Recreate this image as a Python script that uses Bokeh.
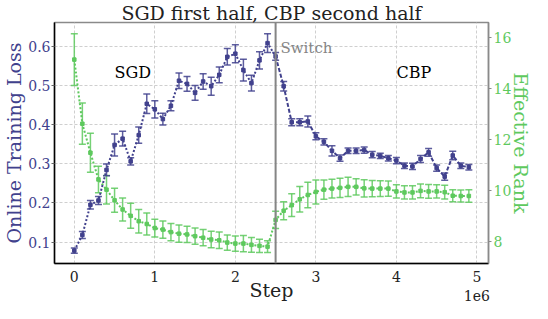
from bokeh.plotting import figure
from bokeh.models import Range1d, LinearAxis, FixedTicker, Label, Span
from bokeh.embed import file_html
from bokeh.resources import INLINE

# ---------------- data ----------------
steps = [i * 100000 for i in range(50)]
switch_step = 2500000

loss = [0.078, 0.118, 0.195, 0.206, 0.284, 0.348, 0.364, 0.306, 0.373, 0.453,
        0.439, 0.414, 0.448, 0.512, 0.504, 0.481, 0.510, 0.498, 0.527, 0.573,
        0.581, 0.539, 0.506, 0.564, 0.608, 0.574, 0.498, 0.406, 0.406, 0.408,
        0.370, 0.356, 0.333, 0.314, 0.333, 0.333, 0.335, 0.323, 0.320, 0.314,
        0.308, 0.295, 0.293, 0.312, 0.329, 0.289, 0.267, 0.321, 0.295, 0.291]
loss_err = [0.007, 0.009, 0.011, 0.010, 0.015, 0.028, 0.019, 0.009, 0.021, 0.025,
            0.022, 0.015, 0.013, 0.020, 0.019, 0.019, 0.020, 0.023, 0.020, 0.021,
            0.023, 0.028, 0.020, 0.022, 0.024, 0.010, 0.012, 0.009, 0.009, 0.014,
            0.009, 0.008, 0.013, 0.008, 0.007, 0.007, 0.008, 0.008, 0.007, 0.007,
            0.008, 0.007, 0.008, 0.009, 0.010, 0.008, 0.009, 0.011, 0.007, 0.007]

rank = [15.13, 12.61, 11.47, 10.42, 10.02, 9.60, 9.24, 8.99, 8.78, 8.67,
        8.51, 8.45, 8.35, 8.29, 8.26, 8.19, 8.13, 8.06, 8.03, 7.94,
        7.90, 7.90, 7.85, 7.81, 7.78, 8.83, 9.19, 9.41, 9.64, 9.81,
        9.93, 10.02, 10.06, 10.09, 10.13, 10.13, 10.07, 10.06, 10.06, 10.06,
        9.95, 9.91, 9.91, 9.97, 9.95, 9.95, 9.92, 9.78, 9.77, 9.77]
rank_err = [1.02, 0.81, 0.77, 0.52, 0.56, 0.47, 0.45, 0.49, 0.46, 0.43,
            0.35, 0.34, 0.34, 0.34, 0.32, 0.32, 0.32, 0.32, 0.32, 0.30,
            0.30, 0.32, 0.29, 0.26, 0.23, 0.34, 0.35, 0.45, 0.50, 0.50,
            0.47, 0.38, 0.37, 0.38, 0.38, 0.32, 0.34, 0.32, 0.31, 0.30,
            0.26, 0.26, 0.26, 0.27, 0.27, 0.26, 0.27, 0.24, 0.24, 0.25]

x_ticks = [0, 1000000, 2000000, 3000000, 4000000, 5000000]
x_tick_labels = ["0", "1", "2", "3", "4", "5\n1e6"]
loss_ticks = [0.1, 0.2, 0.3, 0.4, 0.5, 0.6]
rank_ticks = [8, 10, 12, 14, 16]

BLUE = "#41418d"
GREEN = "#5ec95e"
FONT = "DejaVu Serif"

p = figure(width=540, height=311, output_backend="svg", toolbar_location=None,
           x_range=Range1d(-246000, 5144000), y_range=Range1d(0.0451, 0.6607),
           min_border_left=49, min_border_right=52, min_border_top=10,
           min_border_bottom=48)
p.extra_y_ranges = {"rank": Range1d(7.117, 16.588)}

p.title.text = "SGD first half, CBP second half"
p.title.text_font = FONT
p.title.text_font_size = "19px"
p.title.text_font_style = "normal"
p.title.align = "center"
p.title.text_color = "#222222"
p.title.standoff = -2

p.outline_line_color = "#8a8a8a"
p.outline_line_width = 1.5
p.background_fill_color = "white"
p.border_fill_color = "white"

# grids
p.xgrid.ticker = FixedTicker(ticks=x_ticks)
p.ygrid.ticker = FixedTicker(ticks=loss_ticks)
for g in (p.xgrid, p.ygrid):
    g.grid_line_color = "#cfcfcf"
    g.grid_line_dash = "3 2"
    g.grid_line_width = 1

# x axis
xa = p.xaxis[0]
xa.ticker = FixedTicker(ticks=x_ticks)
xa.major_label_overrides = {t: l for t, l in zip(x_ticks, x_tick_labels)}
xa.axis_label = "Step"
xa.axis_label_text_font = FONT
xa.axis_label_text_font_size = "19px"
xa.axis_label_text_font_style = "normal"
xa.axis_label_text_color = "#222222"
xa.major_label_text_font = FONT
xa.major_label_text_font_size = "14px"
xa.major_label_text_color = "#222222"
xa.axis_line_color = "black"
xa.axis_line_width = 1.5
xa.major_tick_out = 0
xa.major_tick_in = 0
xa.minor_tick_out = 0
xa.minor_tick_in = 0
xa.major_label_standoff = 5
xa.axis_label_standoff = -28

# left axis
ya = p.yaxis[0]
ya.ticker = FixedTicker(ticks=loss_ticks)
ya.axis_label = "Online Training Loss"
ya.axis_label_text_font = FONT
ya.axis_label_text_font_size = "19px"
ya.axis_label_text_font_style = "normal"
ya.axis_label_text_color = BLUE
ya.major_label_text_font = FONT
ya.major_label_text_font_size = "14px"
ya.major_label_text_color = BLUE
ya.axis_line_color = "black"
ya.axis_line_width = 1.5
ya.major_tick_out = 3
ya.major_tick_in = 0
ya.minor_tick_out = 0
ya.minor_tick_in = 0
ya.major_tick_line_color = "#666666"
ya.major_label_standoff = 1
ya.axis_label_standoff = 0

# right axis
ra = LinearAxis(y_range_name="rank", ticker=FixedTicker(ticks=rank_ticks))
ra.axis_label = "Effective Rank"
ra.axis_label_text_font = FONT
ra.axis_label_text_font_size = "19px"
ra.axis_label_text_font_style = "normal"
ra.axis_label_text_color = GREEN
ra.axis_label_orientation = "vertical"
ra.major_label_text_font = FONT
ra.major_label_text_font_size = "14px"
ra.major_label_text_color = GREEN
ra.axis_line_color = "#8a8a8a"
ra.axis_line_width = 1.5
ra.major_tick_out = 3
ra.major_tick_in = 0
ra.minor_tick_out = 0
ra.minor_tick_in = 0
ra.major_tick_line_color = "#8a8a8a"
ra.major_label_standoff = 2
ra.axis_label_standoff = -4
p.add_layout(ra, "right")

# switch line
p.add_layout(Span(location=switch_step, dimension="height", line_color="#858585",
                  line_width=2))

# ---- effective rank (green) ----
rank_lo = [v - e for v, e in zip(rank, rank_err)]
rank_hi = [v + e for v, e in zip(rank, rank_err)]
p.line(steps, rank, y_range_name="rank", line_color=GREEN, line_width=2,
       line_dash="2 2")
p.segment(x0=steps, y0=rank_lo, x1=steps, y1=rank_hi, y_range_name="rank",
          line_color=GREEN, line_width=1.5, line_alpha=0.85)
p.scatter(steps, rank_lo, y_range_name="rank", marker="dash", size=7,
          line_color=GREEN, line_width=1.5, line_alpha=0.85)
p.scatter(steps, rank_hi, y_range_name="rank", marker="dash", size=7,
          line_color=GREEN, line_width=1.5, line_alpha=0.85)
p.scatter(steps, rank, y_range_name="rank", marker="square", size=3.5,
          fill_color=GREEN, line_color=GREEN)

# ---- loss (blue) ----
half = steps.index(switch_step)
loss_lo = [v - e for v, e in zip(loss, loss_err)]
loss_hi = [v + e for v, e in zip(loss, loss_err)]
p.line(steps[:half + 1], loss[:half + 1], line_color=BLUE, line_width=2,
       line_dash="2 2")
p.line(steps[half:], loss[half:], line_color=BLUE, line_width=2,
       line_dash="4 2")
p.segment(x0=steps, y0=loss_lo, x1=steps, y1=loss_hi, line_color=BLUE,
          line_width=1.5, line_alpha=0.85)
p.scatter(steps, loss_lo, marker="dash", size=7, line_color=BLUE,
          line_width=1.5, line_alpha=0.85)
p.scatter(steps, loss_hi, marker="dash", size=7, line_color=BLUE,
          line_width=1.5, line_alpha=0.85)
p.scatter(steps, loss, marker="square", size=3.5, fill_color=BLUE,
          line_color=BLUE)

# ---- annotations ----
p.add_layout(Label(x=500000, y=0.533, text="SGD", text_font=FONT,
                   text_font_size="16px", text_color="black",
                   text_baseline="alphabetic"))
p.add_layout(Label(x=4000000, y=0.533, text="CBP", text_font=FONT,
                   text_font_size="16px", text_color="black",
                   text_baseline="alphabetic"))
p.add_layout(Label(x=2560000, y=0.596, text="Switch", text_font=FONT,
                   text_font_size="15px", text_color="#858585",
                   text_baseline="alphabetic"))

open("out.html", "w").write(file_html(p, INLINE))
